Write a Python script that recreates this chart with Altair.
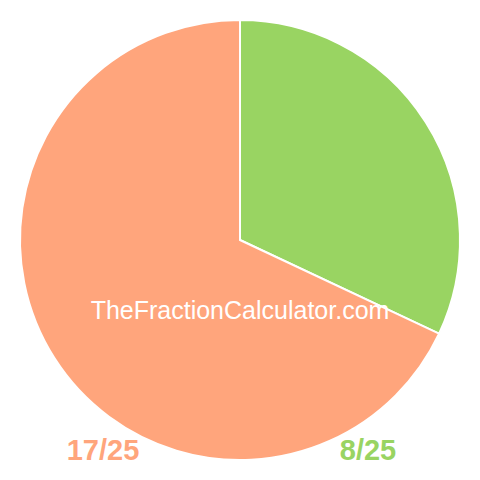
import altair as alt
import pandas as pd

labels = ["8/25", "17/25"]
values = [8, 17]
colors = ["#99D462", "#FFA57C"]
order = [0, 1]

df = pd.DataFrame({"label": labels, "value": values, "order": order})

pie = alt.Chart(df).mark_arc(radius=220, stroke="white", strokeWidth=2).encode(
    theta=alt.Theta("value:Q", stack=True),
    order=alt.Order("order:Q"),
    color=alt.Color("label:N", scale=alt.Scale(domain=labels, range=colors), legend=None),
)

watermark = alt.Chart(pd.DataFrame({"t": ["TheFractionCalculator.com"]})).mark_text(
    font="Liberation Sans", fontSize=25, color="white", align="center", baseline="alphabetic"
).encode(text="t:N", x=alt.value(232), y=alt.value(311))

lab_df = pd.DataFrame({"label": ["17/25", "8/25"], "xpos": [95, 360]})
lab = alt.Chart(lab_df).mark_text(
    font="Liberation Sans", fontSize=29, fontWeight="bold", align="center", baseline="alphabetic"
).encode(
    text="label:N",
    x=alt.X("xpos:Q", scale=alt.Scale(domain=[0, 464], range=[0, 464]), axis=None),
    y=alt.value(452),
    color=alt.Color("label:N", scale=alt.Scale(domain=labels, range=colors), legend=None),
)

chart = alt.layer(pie, watermark, lab).properties(
    width=464, height=464, autosize=alt.AutoSizeParams(type="none"), padding=0
).configure_view(stroke=None)

chart.save("out.html", embed_options={"renderer": "svg", "actions": False})
